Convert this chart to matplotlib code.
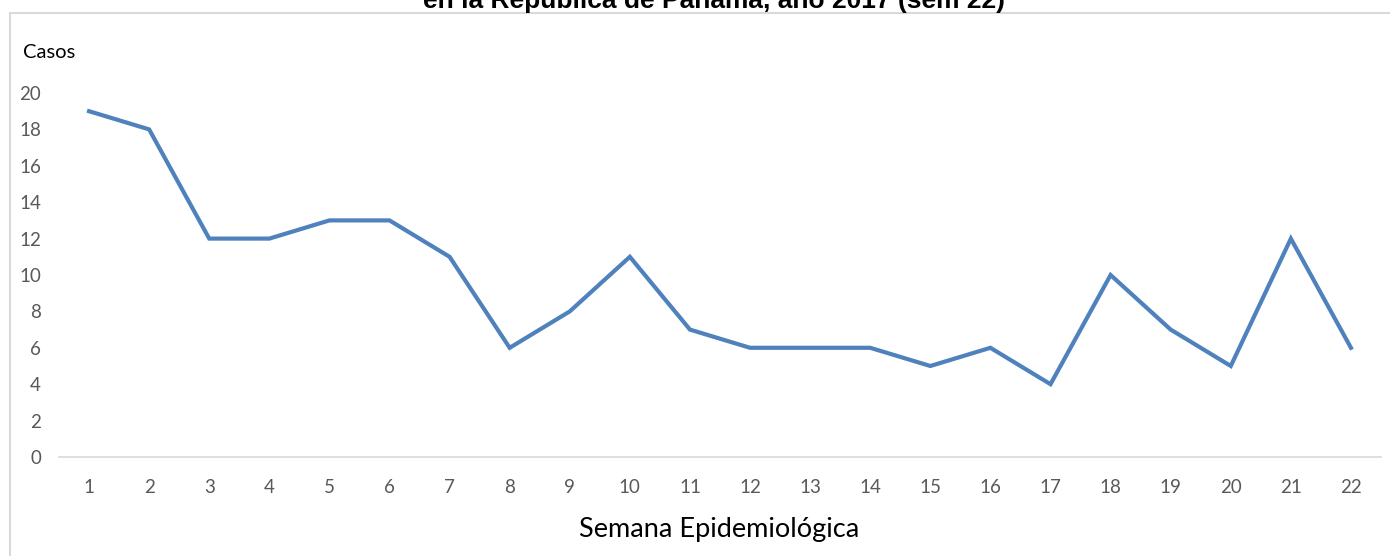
import matplotlib
matplotlib.use("Agg")
import matplotlib.pyplot as plt
from matplotlib.patches import Rectangle

weeks = list(range(1, 23))
week_labels = [str(w) for w in weeks]
cases = [19, 18, 12, 12, 13, 13, 11, 6, 8, 11, 7, 6, 6, 6, 5, 6, 4, 10, 7, 5, 12, 6]
yticks = list(range(0, 21, 2))

fig = plt.figure(figsize=(13.9, 5.56), dpi=100)
ax = fig.add_axes([59/1390, 1-457/556, (1381-59)/1390, (457-93)/556])

ax.plot(weeks, cases, color="#4F81BD", linewidth=3, solid_joinstyle="miter")
ax.set_xlim(0.5, 22.5)
ax.set_ylim(0, 20)
ax.set_xticks(weeks)
ax.set_xticklabels(week_labels)
ax.set_yticks(yticks)
for s in ["top", "right", "left"]:
    ax.spines[s].set_visible(False)
ax.spines["bottom"].set_color("#D9D9D9")
ax.spines["bottom"].set_linewidth(1.2)
ax.tick_params(axis="both", length=0, labelsize=13.5, labelcolor="#595959")
ax.tick_params(axis="x", pad=16)
ax.tick_params(axis="y", pad=13)
for lab in ax.get_xticklabels() + ax.get_yticklabels():
    lab.set_family("Lato")

fig.text(23/1390, 1-53/556, "Casos", fontsize=14.5, family="Lato", color="#000000",
         ha="left", va="center")
fig.text(719/1390, 1-530/556, "Semana Epidemiológica", fontsize=19.5, family="Lato",
         color="#000000", ha="center", va="center")
fig.text(714/1390, 1-8/556, "en la República de Panamá, año 2017 (sem 22)",
         fontsize=19, family="Liberation Sans", fontweight="bold", color="#000000",
         ha="center", va="baseline")

fig.patches.append(Rectangle((10/1390, -0.01), 1.0, 1-13/556 + 0.01,
                             transform=fig.transFigure, fill=False,
                             edgecolor="#D9D9D9", linewidth=1.5))

fig.savefig("out.png", dpi=100)
